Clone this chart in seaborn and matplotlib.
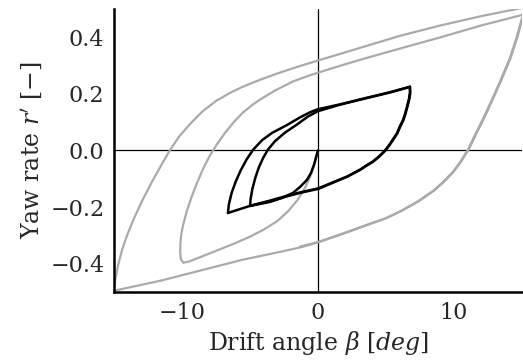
import numpy as np
import pandas as pd
import matplotlib
matplotlib.use("Agg")
import matplotlib.pyplot as plt
import seaborn as sns

# ---- Gray trajectory (large zig-zag): drift angle [deg], yaw rate [-] ----
gray_start_beta = [0.0, -0.12, -0.27, -0.55, -0.95, -1.5, -2.2, -3.0, -4.0, -5.0, -6.2, -7.5,
                   -8.7, -9.5, -9.9, -10.08, -10.13, -10.12, -10.05, -9.9, -9.65, -9.3, -8.9,
                   -8.45, -7.95, -7.43, -6.84, -6.2, -5.5, -4.8, -4.26, -3.16, -1.84, -0.59,
                   0.0, 2.0, 4.0, 6.0, 9.0, 12.0, 15.0, 15.4]
gray_start_r = [0.0, -0.025, -0.050, -0.090, -0.132, -0.175, -0.215, -0.250, -0.280, -0.305,
                -0.330, -0.355, -0.378, -0.393, -0.397, -0.385, -0.360, -0.330, -0.295, -0.260,
                -0.215, -0.165, -0.115, -0.065, -0.018, 0.022, 0.062, 0.100, 0.135, 0.162,
                0.180, 0.212, 0.244, 0.266, 0.275, 0.305, 0.333, 0.360, 0.400, 0.442, 0.479,
                0.490]

gray_down_beta = [15.4, 15.0, 14.6, 14.1, 13.38, 12.75, 12.13, 11.54, 11.03, 10.44, 9.93,
                  9.19, 8.46, 7.35, 6.03, 4.93, 3.60, 2.35, 1.10, 0.0, -1.32, -3.5, -5.51,
                  -8.68, -11.62, -15.0, -15.4]
gray_down_r = [0.490, 0.468, 0.398, 0.325, 0.243, 0.175, 0.111, 0.054, 0.003, -0.042, -0.075,
               -0.112, -0.143, -0.180, -0.216, -0.241, -0.264, -0.286, -0.307, -0.325, -0.343,
               -0.366, -0.386, -0.425, -0.461, -0.496, -0.510]

gray_up_beta = [-15.4, -15.0, -14.9, -14.7, -14.4, -14.0, -13.5, -12.9, -12.2, -11.5, -10.9,
                -10.2, -9.4, -8.5, -7.5, -6.5, -5.5, -4.26, -3.0, -1.5, 0.0, 2.0, 4.0, 6.0,
                9.0, 12.0, 15.0, 15.4]
gray_up_r = [-0.510, -0.496, -0.455, -0.405, -0.350, -0.295, -0.237, -0.175, -0.110, -0.050,
             0.0, 0.050, 0.094, 0.138, 0.175, 0.203, 0.226, 0.250, 0.272, 0.296, 0.318, 0.347,
             0.376, 0.405, 0.442, 0.475, 0.504, 0.515]

gray_end_beta = [15.4, 15.05, 14.65, 14.15, 13.43, 12.80, 12.18, 11.59, 11.08, 10.49, 9.98,
                 9.24, 8.51, 7.40, 6.08, 4.98, 3.65, 2.40, 1.15, 0.05, -1.32]
gray_end_r = [0.515, 0.470, 0.398, 0.325, 0.243, 0.175, 0.111, 0.054, 0.003, -0.042, -0.075,
              -0.112, -0.143, -0.180, -0.215, -0.240, -0.262, -0.284, -0.305, -0.323, -0.340]

# ---- Black trajectory (small zig-zag) ----
black_start_beta = [0.0, -0.15, -0.29, -0.51, -0.81, -1.32, -1.84, -2.65, -3.53, -4.26, -5.0]
black_start_r = [0.0, -0.025, -0.050, -0.079, -0.104, -0.129, -0.150, -0.168, -0.182, -0.189,
                 -0.196]

black_inner_beta = [-5.0, -4.95, -4.82, -4.60, -4.35, -4.04, -3.68, -3.16, -2.43, -1.54,
                    -0.74, 0.0, 1.62, 3.31, 5.29, 6.76]
black_inner_r = [-0.196, -0.170, -0.135, -0.095, -0.060, -0.027, 0.003, 0.033, 0.063, 0.092,
                 0.120, 0.139, 0.162, 0.182, 0.205, 0.225]

black_down_beta = [6.76, 6.76, 6.69, 6.54, 6.40, 6.25, 6.03, 5.81, 5.51, 5.22, 4.93, 4.49,
                   4.04, 3.53, 3.09, 2.13, 1.10, 0.0, -1.32, -2.43, -3.53, -5.0, -6.62]
black_down_r = [0.225, 0.204, 0.182, 0.154, 0.129, 0.107, 0.086, 0.061, 0.039, 0.018, 0.0,
                -0.021, -0.039, -0.054, -0.068, -0.093, -0.114, -0.136, -0.150, -0.164, -0.179,
                -0.196, -0.221]

black_outer_beta = [-6.62, -6.55, -6.35, -6.05, -5.68, -5.25, -4.78, -4.12, -3.38, -2.28,
                    -1.32, -0.59, 0.0, 1.62, 3.31, 5.29, 6.76]
black_outer_r = [-0.221, -0.190, -0.150, -0.110, -0.070, -0.032, 0.002, 0.036, 0.062, 0.090,
                 0.117, 0.135, 0.146, 0.163, 0.183, 0.206, 0.225]

black_end_beta = [6.76, 6.79, 6.72, 6.57, 6.43, 6.28, 6.06, 5.84, 5.54, 5.25, 4.96, 4.52,
                  4.07, 3.56, 3.12, 2.16, 1.13, 0.03, -1.29, -2.40, -3.50, -5.0]
black_end_r = [0.225, 0.204, 0.182, 0.154, 0.129, 0.107, 0.086, 0.061, 0.039, 0.018, 0.0,
               -0.021, -0.039, -0.054, -0.068, -0.092, -0.112, -0.134, -0.148, -0.162, -0.177,
               -0.196]

x_ticks = [-10, 0, 10]
y_ticks = [-0.4, -0.2, 0.0, 0.2, 0.4]

sns.set_style("white")
plt.rcParams["font.family"] = ["DejaVu Serif"]
plt.rcParams["mathtext.fontset"] = "dejavuserif"
plt.rcParams["axes.edgecolor"] = "black"

fig, ax = plt.subplots(figsize=(5.23, 3.63), dpi=100)
fig.subplots_adjust(left=0.218, right=0.998, top=0.975, bottom=0.196)

ax.axhline(0, color="black", lw=0.9, zorder=1)
ax.axvline(0, color="black", lw=0.9, zorder=1)

gray_segments = [(gray_start_beta, gray_start_r), (gray_down_beta, gray_down_r),
                 (gray_up_beta, gray_up_r), (gray_end_beta, gray_end_r)]
for b, r in gray_segments:
    sns.lineplot(x=b, y=r, sort=False, estimator=None, color="#aaaaaa", lw=1.6, ax=ax,
                 zorder=2)

black_segments = [(black_start_beta, black_start_r), (black_inner_beta, black_inner_r),
                  (black_down_beta, black_down_r), (black_outer_beta, black_outer_r),
                  (black_end_beta, black_end_r)]
for b, r in black_segments:
    sns.lineplot(x=b, y=r, sort=False, estimator=None, color="black", lw=1.8, ax=ax,
                 zorder=3)

ax.set_xlim(-15, 15)
ax.set_ylim(-0.5, 0.5)
ax.set_xticks(x_ticks)
ax.set_yticks(y_ticks)
ax.tick_params(labelsize=16)
ax.set_xlabel(r"Drift angle $\beta$ [$deg$]", fontsize=17)
ax.set_ylabel(r"Yaw rate $r'$ [$-$]", fontsize=17)
sns.despine(ax=ax)
for s in ("left", "bottom"):
    ax.spines[s].set_linewidth(1.8)

fig.savefig("out.png", dpi=100)
